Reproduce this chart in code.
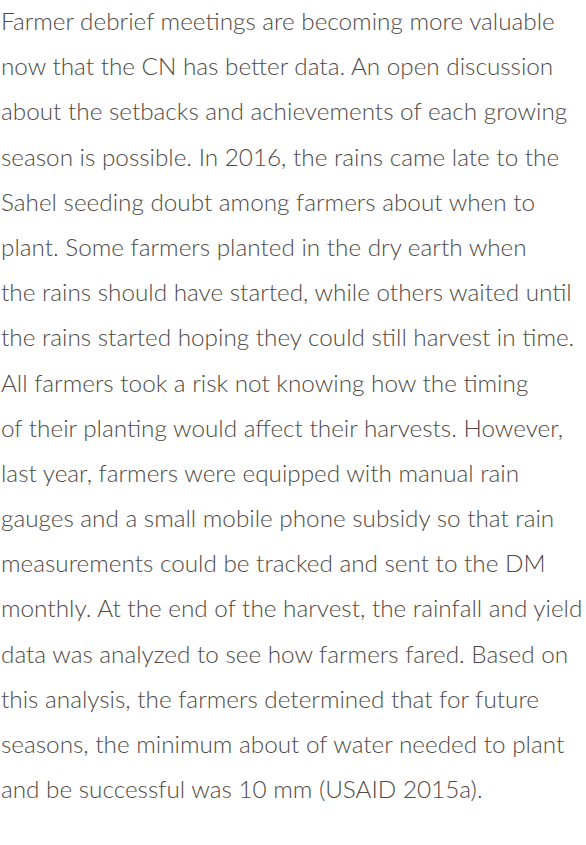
<!DOCTYPE html>
<html>
<head>
<meta charset="utf-8">
<script src="https://cdn.jsdelivr.net/npm/chart.js@4"></script>
<style>
  html, body { margin: 0; padding: 0; background: #fff; }
  body { width: 586px; height: 845px; overflow: hidden; }
  #text {
    position: absolute; left: 1px; top: -2px;
    font-family: 'Lato', 'Open Sans', sans-serif;
    font-weight: 300;
    font-size: 24.3px;
    color: #4f4a46;
  }
  #text div { height: 45.2px; line-height: 45.2px; white-space: nowrap; }
</style>
</head>
<body>
<div id="text"></div>
<script>
// paragraph lines, kept with the original line breaks
const LINES = [
    'Farmer debrief meetings are becoming more valuable',
    'now that the CN has better data. An open discussion',
    'about the setbacks and achievements of each growing',
    'season is possible. In 2016, the rains came late to the',
    'Sahel seeding doubt among farmers about when to',
    'plant. Some farmers planted in the dry earth when',
    'the rains should have started, while others waited until',
    'the rains started hoping they could still harvest in time.',
    'All farmers took a risk not knowing how the timing',
    'of their planting would affect their harvests. However,',
    'last year, farmers were equipped with manual rain',
    'gauges and a small mobile phone subsidy so that rain',
    'measurements could be tracked and sent to the DM',
    'monthly. At the end of the harvest, the rainfall and yield',
    'data was analyzed to see how farmers fared. Based on',
    'this analysis, the farmers determined that for future',
    'seasons, the minimum about of water needed to plant',
    'and be successful was 10 mm (USAID 2015a).'
];

const box = document.getElementById('text');
LINES.forEach(line => {
    const d = document.createElement('div');
    d.textContent = line;
    box.appendChild(d);
});
</script>
</body>
</html>
